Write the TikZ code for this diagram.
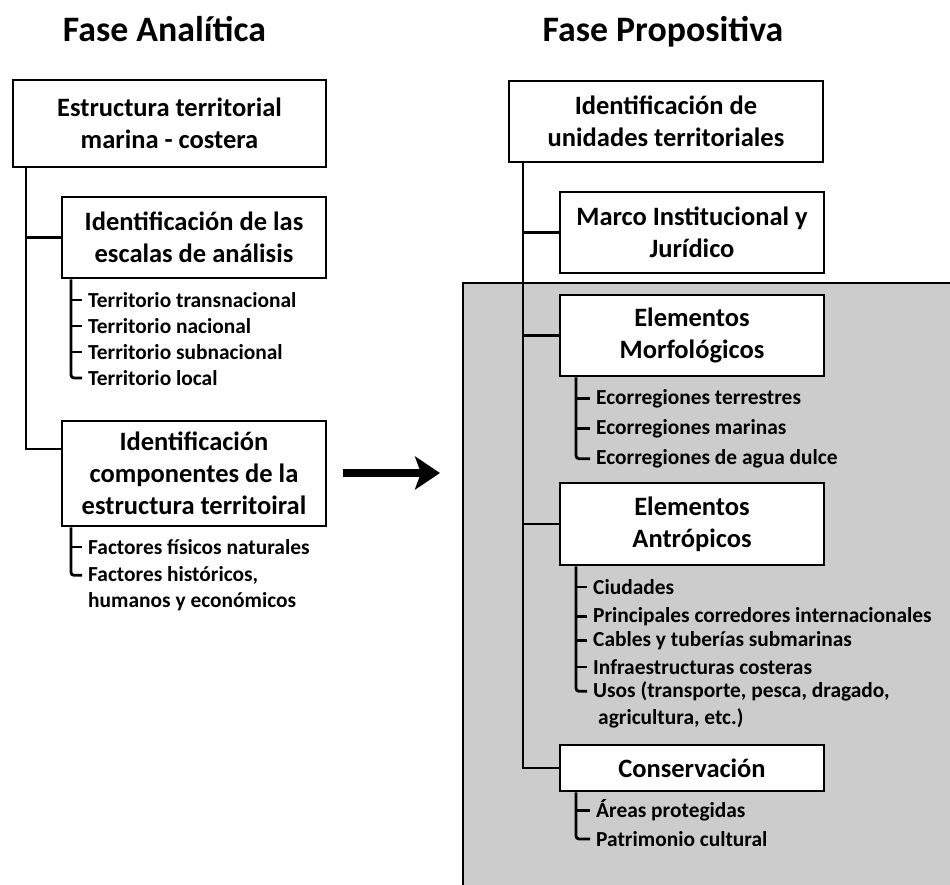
\documentclass[tikz,border=0pt]{standalone}
\usepackage{fontspec}
\setmainfont{Carlito}
\usetikzlibrary{arrows.meta}
\definecolor{greyfill}{RGB}{204,204,204}
\begin{document}
\begin{tikzpicture}[x=1pt,y=-1pt,
  box/.style={draw, fill=white, line width=2.8pt, inner sep=0pt, align=center,
    font=\bfseries\fontsize{26.5}{32}\selectfont},
  item/.style={anchor=mid west, inner xsep=6pt, inner ysep=0pt,
    font=\bfseries\fontsize{21.4}{26}\selectfont},
  ttl/.style={anchor=base, font=\bfseries\fontsize{35.8}{40}\selectfont},
  link/.style={line width=2.8pt}]
\useasboundingbox (0,0) rectangle (950,884);
% shaded region
\fill[greyfill] (463,283) rectangle (955,890);
\draw[link] (463,890) -- (463,283) -- (955,283);
% titles
\node[ttl] (tA) at (164.5,41) {Fase Analítica};
\node[ttl] (tP) at (663,41) {Fase Propositiva};
% left boxes
\node[box, minimum width=313pt, minimum height=87pt] (L1) at (169.5,123.5) {Estructura territorial\\marina - costera};
\node[box, minimum width=264pt, minimum height=81pt] (L2) at (194,237.5) {Identificación de las\\escalas de análisis};
\node[box, minimum width=264pt, minimum height=105pt] (L3) at (194,473.5) {Identificación\\componentes de la\\estructura territoiral};
\coordinate (tL) at (26,449);
\draw[link] (L1.south -| tL) -- (tL) -- (tL -| L3.west);
\draw[link] (L2.west) -- (L2.west -| tL);
% left items 1
\node[item] (a1) at (82,305) {Territorio transnacional};
\node[item] (a2) at (82,331) {Territorio nacional};
\node[item] (a3) at (82,357) {Territorio subnacional};
\node[item] (a4) at (82,383) {Territorio local};
\coordinate (ta) at (71,0);
\draw[link, rounded corners=3pt] (L2.south -| ta) |- (a4.west);
\foreach \n in {a1,a2,a3} \draw[link] (\n.west -| ta) -- (\n.west);
% left items 2
\node[item] (b1) at (82,552) {Factores físicos naturales};
\node[item] (b2) at (82,579) {Factores históricos,};
\node[item] (b3) at (82,605) {humanos y económicos};
\draw[link, rounded corners=3pt] (L3.south -| ta) |- (b2.west);
\draw[link] (b1.west -| ta) -- (b1.west);
% arrow
\coordinate (arS) at (343,473);
\coordinate (arE) at (440,473);
\draw[line width=7.5pt, -{Stealth[length=25pt,width=33pt,inset=6pt]}] (arS) -- (arE);
% right boxes
\node[box, minimum width=314pt, minimum height=81pt] (R1) at (666,121.5) {Identificación de\\unidades territoriales};
\node[box, minimum width=264pt, minimum height=81pt] (R2) at (692,232.5) {Marco Institucional y\\Jurídico};
\node[box, minimum width=264pt, minimum height=81pt] (R3) at (692,335.5) {Elementos\\Morfológicos};
\node[box, minimum width=264pt, minimum height=82pt] (R4) at (692,524) {Elementos\\Antrópicos};
\node[box, minimum width=264pt, minimum height=46pt] (R5) at (692,768) {Conservación};
\coordinate (tR) at (523,0);
\draw[link] (R1.south -| tR) |- (R5.west);
\foreach \n in {R2,R3,R4} \draw[link] (\n.west -| tR) -- (\n.west);
% right items
\coordinate (tr) at (576,0);
\node[item] (c1) at (590,402) {Ecorregiones terrestres};
\node[item] (c2) at (590,432) {Ecorregiones marinas};
\node[item] (c3) at (590,462) {Ecorregiones de agua dulce};
\draw[link, rounded corners=3pt] (R3.south -| tr) |- (c3.west);
\foreach \n in {c1,c2} \draw[link] (\n.west -| tr) -- (\n.west);
\node[item] (d1) at (587,592) {Ciudades};
\node[item] (d2) at (587,620) {Principales corredores internacionales};
\node[item] (d3) at (587,644) {Cables y tuberías submarinas};
\node[item] (d4) at (587,672) {Infraestructuras costeras};
\node[item] (d5) at (587,695) {Usos (transporte, pesca, dragado,};
\node[item] (d6) at (592,722) {agricultura, etc.)};
\draw[link, rounded corners=3pt] (R4.south -| tr) |- (d5.west);
\foreach \n in {d1,d2,d3,d4} \draw[link] (\n.west -| tr) -- (\n.west);
\node[item] (e1) at (590,815) {Áreas protegidas};
\node[item] (e2) at (590,844) {Patrimonio cultural};
\draw[link, rounded corners=3pt] (R5.south -| tr) |- (e2.west);
\draw[link] (e1.west -| tr) -- (e1.west);
\end{tikzpicture}
\end{document}
